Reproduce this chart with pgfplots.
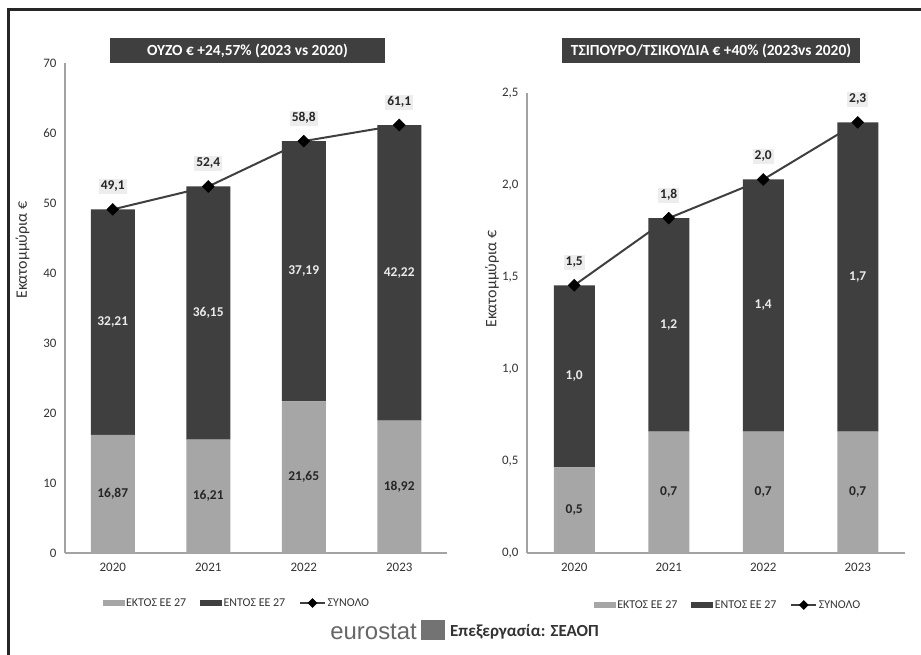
\documentclass[border=0pt]{standalone}
\usepackage{fontspec}
\setmainfont{Carlito}
\newfontfamily\eurofont{Liberation Sans}
\usepackage{pgfplots}
\pgfplotsset{compat=1.18}
\usepackage{pgfplotstable}

\definecolor{lightbar}{HTML}{A6A6A6}
\definecolor{darkbar}{HTML}{3F3F3F}
\definecolor{axisgray}{HTML}{A3A3A3}
\definecolor{lblbg}{HTML}{EDEDED}

% ouzo, million euro
\pgfplotstableread{
x ektos entos total
0 16.87 32.21 49.08
1 16.21 36.15 52.36
2 21.65 37.19 58.84
3 18.92 42.22 61.14
}\ouzo
% tsipouro / tsikoudia, million euro
\pgfplotstableread{
x ektos entos total
0 0.465 0.99 1.455
1 0.66 1.16 1.82
2 0.66 1.37 2.03
3 0.66 1.68 2.34
}\tsipouro

\tikzset{lbl/.style={anchor=center, font=\bfseries\fontsize{13.5}{15}\selectfont}}

\pgfplotsset{
  /pgf/number format/assume math mode=true,
  base/.style={
    scale only axis, xmin=-0.5, xmax=3.5, ymin=0,
    xtick={0,1,2,3}, xticklabels={2020,2021,2022,2023},
    axis x line*=bottom, axis y line*=left,
    axis line style={draw=axisgray, line width=1.3bp},
    major tick length=0pt,
    tick label style={font=\fontsize{13}{15}\selectfont, text=black!80},
    xticklabel style={yshift=-7bp},
    yticklabel style={xshift=-5bp},
    clip=false,
  },
  % segment value, centred in its own bar segment
  seglabel/.style={
    nodes near coords={\pgfmathprintnumber[fixed,fixed zerofill,precision=#1,use comma]{\pgfplotspointmeta}},
    point meta=explicit,
  },
  totline/.style={
    color=darkbar, line width=2bp,
    mark=square*, mark size=4.2bp, mark options={rotate=45, fill=black, draw=black, line width=0.5bp},
    nodes near coords={\pgfmathprintnumber[fixed,fixed zerofill,precision=1,use comma]{\pgfplotspointmeta}},
    point meta=explicit,
    every node near coord/.append style={anchor=center, yshift=23bp, fill=lblbg, inner sep=2bp,
      font=\bfseries\fontsize{13.5}{15}\selectfont, text=black!85},
  },
  legstyle/.style={
    legend style={draw=none, fill=none, legend columns=3, anchor=center, at={#1},
      font=\fontsize{12}{14}\selectfont, text=black!80,
      /tikz/every even column/.append style={column sep=12bp}},
  },
}

\begin{document}
\begin{tikzpicture}
\useasboundingbox (0bp,0bp) rectangle (921bp,-655bp);
\draw[line width=2.8bp, color=black!85, line join=miter] (8.7bp,-655bp) -- (8.7bp,-9.7bp) -- (921bp,-9.7bp);

% ---------- left: ouzo ----------
\begin{axis}[base, at={(65bp,-553bp)}, anchor=south west,
  width=382bp, height=490bp, ymax=70, ytick={0,10,...,70},
  ybar stacked, bar width=44bp]
\addplot[fill=lightbar, draw=none, seglabel=2,
  every node near coord/.append style={lbl, text=black!85}]
  table[x=x, y=ektos, meta=ektos] {\ouzo};
\addplot[fill=darkbar, draw=none, seglabel=2,
  every node near coord/.append style={lbl, text=white!92!black}]
  table[x=x, y=entos, meta=entos] {\ouzo};
\end{axis}
\begin{axis}[base, hide axis, at={(65bp,-553bp)}, anchor=south west,
  width=382bp, height=490bp, ymax=70, legstyle={(0.45,-0.102)}]
\addlegendimage{legend image code/.code={\fill[lightbar] (0bp,-2.6bp) rectangle (21bp,2.6bp);}}
\addlegendimage{legend image code/.code={\fill[darkbar] (0bp,-2.6bp) rectangle (21bp,2.6bp);}}
\addplot[totline, legend image code/.code={
    \draw[darkbar, line width=1.5bp] (0bp,0bp) -- (25bp,0bp);
    \fill[black] (12.5bp,3.5bp) -- (16bp,0bp) -- (12.5bp,-3.5bp) -- (9bp,0bp) -- cycle;}]
  table[x=x, y=total, meta=total] {\ouzo};
\legend{ΕΚΤΟΣ ΕΕ 27, ΕΝΤΟΣ ΕΕ 27, ΣΥΝΟΛΟ}
\end{axis}

% ---------- right: tsipouro ----------
\begin{axis}[base, at={(527bp,-553bp)}, anchor=south west,
  width=378bp, height=460bp, ymax=2.5, ytick={0,0.5,...,2.5},
  yticklabel style={/pgf/number format/.cd, fixed, fixed zerofill, precision=1, use comma},
  ybar stacked, bar width=41bp]
\addplot[fill=lightbar, draw=none, seglabel=1,
  every node near coord/.append style={lbl, text=black!85}]
  table[x=x, y=ektos, meta=ektos] {\tsipouro};
\addplot[fill=darkbar, draw=none, seglabel=1,
  every node near coord/.append style={lbl, text=white!92!black}]
  table[x=x, y=entos, meta=entos] {\tsipouro};
\end{axis}
\begin{axis}[base, hide axis, at={(527bp,-553bp)}, anchor=south west,
  width=378bp, height=460bp, ymax=2.5, legstyle={(0.532,-0.113)}]
\addlegendimage{legend image code/.code={\fill[lightbar] (0bp,-2.6bp) rectangle (21bp,2.6bp);}}
\addlegendimage{legend image code/.code={\fill[darkbar] (0bp,-2.6bp) rectangle (21bp,2.6bp);}}
\addplot[totline, legend image code/.code={
    \draw[darkbar, line width=1.5bp] (0bp,0bp) -- (25bp,0bp);
    \fill[black] (12.5bp,3.5bp) -- (16bp,0bp) -- (12.5bp,-3.5bp) -- (9bp,0bp) -- cycle;}]
  table[x=x, y=total, meta=total] {\tsipouro};
\legend{ΕΚΤΟΣ ΕΕ 27, ΕΝΤΟΣ ΕΕ 27, ΣΥΝΟΛΟ}
\end{axis}

% ---------- titles, axis labels, source ----------
\node[fill=darkbar, text=white, font=\bfseries\fontsize{15.5}{18}\selectfont,
  minimum width=275bp, minimum height=25bp, inner sep=0pt] at (247.5bp,-50.5bp)
  {ΟΥΖΟ € +24,57\% (2023 vs 2020)};
\node[fill=darkbar, text=white, font=\bfseries\fontsize{15.5}{18}\selectfont,
  minimum width=298bp, minimum height=25bp, inner sep=0pt] at (711bp,-50.5bp)
  {ΤΣΙΠΟΥΡΟ/ΤΣΙΚΟΥΔΙΑ € +40\% (2023vs 2020)};
\node[rotate=90, font=\fontsize{16}{18}\selectfont, text=black!80] at (22.5bp,-250bp) {Εκατομμύρια €};
\node[rotate=90, font=\fontsize{16}{18}\selectfont, text=black!80] at (492bp,-279bp) {Εκατομμύρια €};

\node[anchor=base east, inner sep=0pt, font=\eurofont\fontsize{24}{28}\selectfont, text=black!60] at (417bp,-639bp) {eurostat};
\fill[black!55] (421bp,-620bp) rectangle (445bp,-640bp);
\node[anchor=base west, inner sep=0pt, font=\bfseries\fontsize{17}{20}\selectfont, text=black!80] at (450bp,-636bp) {Επεξεργασία: ΣΕΑΟΠ};
\end{tikzpicture}
\end{document}
